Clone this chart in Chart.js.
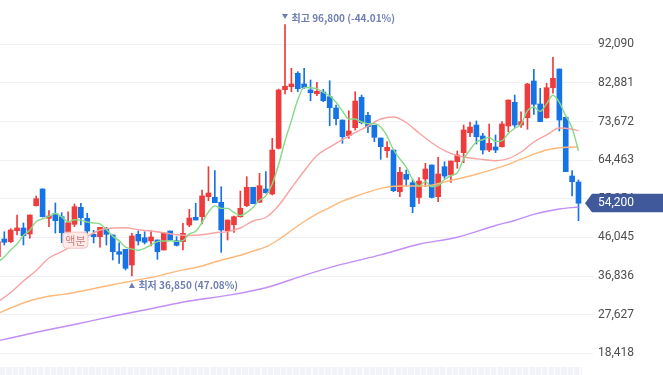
<!DOCTYPE html>
<html><head><meta charset="utf-8">
<script src="https://cdn.jsdelivr.net/npm/chart.js@4.4.1/dist/chart.umd.min.js"></script>
<style>
html,body{margin:0;padding:0;background:#fff;}
#wrap{position:relative;width:663px;height:375px;overflow:hidden;}
#strip{position:absolute;left:0;top:367px;width:582px;height:8px;background:repeating-linear-gradient(to right,#f1f3f9 0,#f1f3f9 5.2px,#fafbfd 5.2px,#fafbfd 6.38px);}
</style></head><body>
<div id="wrap"><canvas id="c" width="663" height="375"></canvas><div id="strip"></div></div>
<script>
// ---- data ----
const opens = [41450,45670,45030,47650,48300,46870,53610,57600,50610,51710,50990,47030,49180,53230,50610,46790,46220,48220,46630,42650,43220,39480,46790,45980,45200,45440,43050,47580,45270,45030,49010,50850,50990,55760,55620,54420,47580,49080,50990,53610,58000,54420,57590,56400,67300,81270,81980,85180,82630,81200,80310,80720,79600,76900,74040,70300,72210,79460,75160,72780,69750,66720,66890,56950,61100,59100,55570,59980,63320,55760,62910,60930,64100,66250,71020,72850,70230,66890,67610,67680,72610,78260,72850,74590,83340,77860,74590,81740,86200,74690,60690,59260];
const highs = [45900,47400,48130,51400,49490,51400,55930,57650,52420,54260,51940,52180,54020,54180,51800,47750,48460,48460,46630,44790,43220,47030,47580,47410,47650,45440,47100,47580,46220,49420,52750,54180,57360,62910,61960,58140,50200,51160,57120,60530,58000,61340,61720,69680,81430,96800,86370,85560,86370,83580,83030,81360,83410,77620,74040,76260,80790,80000,75880,72780,69750,68870,66890,62770,62120,59740,60290,63720,63320,65150,64100,64270,66650,72850,73570,73810,70870,73090,70470,73640,78810,80000,76020,82790,86130,81600,82790,88990,86200,74690,61960,59740];
const lows = [41150,44250,44790,46630,44250,45840,53540,50900,48610,47100,44790,45440,48610,49010,47030,44720,43700,44240,40670,39880,38280,36850,44240,44480,44000,40830,43050,45270,44000,43050,48610,50200,49250,54800,54330,42500,45440,47270,50850,53370,54090,54420,56570,56160,67130,80240,80790,80790,81600,78640,79840,78410,72680,72850,68490,69680,71660,73090,71020,68870,64670,65150,56950,55760,58310,51940,54180,58140,55450,54570,60140,59190,62530,63860,70060,68320,65940,66490,66250,67540,71250,72300,72300,71830,75400,73640,74450,80410,71420,61720,55930,50040];
const closes = [45030,44890,47820,48300,46460,51400,55280,50990,51160,50040,47180,49560,53370,50750,47580,46220,48460,46790,42650,42030,38690,46390,45200,44890,46150,42650,47100,45440,44170,47030,50680,50200,55930,56640,54330,47820,50200,50990,52990,58000,54090,58380,56710,66890,81200,82080,82630,81510,81740,80550,80890,78640,76980,74350,70060,71420,78570,73400,72450,69920,67680,67540,57190,61580,59910,53370,59500,62360,55570,61170,60690,64270,65700,71660,72370,70060,66890,68490,66890,73090,78810,72850,73640,82630,77790,73640,81740,83980,74040,61720,59330,54200];
const days = closes.map((_, i) => i);   // trading-day categories

const ma5 = [40190,41380,43050,44480,46500,47770,49850,50480,51060,51770,50930,49780,50260,50180,49690,49500,49280,47960,46340,45230,43720,43310,42990,43440,44260,45050,45200,45240,45100,45280,46880,47500,49600,52100,53560,52980,52980,52000,51270,52000,53260,54890,56030,58810,63450,69050,73900,78860,81830,81700,81460,80670,79760,78280,76180,74290,74280,73560,73180,73150,72400,70200,66950,64780,62780,59920,58310,59340,58140,58390,59860,60810,61480,64700,66940,68810,69340,69900,68940,69080,70830,72030,73060,76200,77140,76110,77890,79960,78240,75030,72160,66660];
const ma20Days = [0,2,4,6,8,10,12,14,16,18,20,22,24,26,28,30,32,34,36,38,40,42,44,46,48,50,52,54,56,58,60,62,64,66,68,70,72,74,76,78,80,82,84,86,88,90,91];
const ma20 = [30650,32920,35660,38160,41140,42670,44410,46250,47820,48300,48340,47870,47580,47150,46700,46510,46680,47180,47440,48300,49970,50800,53660,57830,61890,65580,67560,69390,71060,72610,74280,74760,73450,70940,68610,66720,65560,64980,64630,64320,64820,66410,68800,70470,72140,71850,71490];
const ma60 = [27910,29220,30420,31370,32040,32420,32920,33520,34160,34780,35350,35950,36500,37210,37970,38570,39240,40190,41030,41790,42810,43770,45550,47700,49850,51680,53160,54690,55810,56830,57740,58240,58310,58310,58480,59260,59980,60690,61550,62460,63480,64700,65890,66890,67420,67560,67610];
const ma120Days = [0,6,12,18,24,30,36,42,48,54,60,66,72,78,81,84,88,91];
const ma120 = [21400,23430,25290,27250,29060,30890,32230,34060,37020,39670,41880,44430,46100,48890,50080,51560,52830,53300];

const yTicks = [18418,27627,36836,46045,55254,64463,73672,82881,92090];
const lastPrice = 54200;
const highMark = { day: 45, value: 96800, name: '최고', pct: '-44.01%' };
const lowMark  = { day: 21, value: 36850, name: '최저', pct: '47.08%' };
const eventMark = { day: 12, text: '액분' };

// ---- styling ----
const UP = '#ee3b3b', DOWN = '#1673e6';
const fmt = v => v.toLocaleString('en-US');
const candleColors = days.map(i => closes[i] >= opens[i] ? UP : DOWN);

const overlay = {
  id: 'overlay',
  afterDatasetsDraw(chart) {
    const { ctx, scales: { x, y } } = chart;
    ctx.save();
    // high marker
    const hx = x.getPixelForValue(highMark.day), hy = y.getPixelForValue(highMark.value);
    ctx.fillStyle = '#6e7eb3';
    ctx.beginPath(); ctx.moveTo(hx - 3, hy - 10.5); ctx.lineTo(hx + 3, hy - 10.5); ctx.lineTo(hx, hy - 5.5); ctx.closePath(); ctx.fill();
    ctx.font = 'bold 10px "Noto Sans CJK KR"';
    ctx.textAlign = 'left'; ctx.textBaseline = 'alphabetic';
    ctx.fillText(highMark.name + ' ' + fmt(highMark.value) + ' (' + highMark.pct + ')', hx + 6.5, hy - 3);
    // low marker
    const lx = x.getPixelForValue(lowMark.day), ly = y.getPixelForValue(lowMark.value);
    ctx.beginPath(); ctx.moveTo(lx - 3, ly + 12); ctx.lineTo(lx + 3, ly + 12); ctx.lineTo(lx, ly + 6.5); ctx.closePath(); ctx.fill();
    ctx.fillText(lowMark.name + ' ' + fmt(lowMark.value) + ' (' + lowMark.pct + ')', lx + 6.5, ly + 12.5);
    // event label
    const ex = x.getPixelForValue(eventMark.day) + 1, ey = y.getPixelForValue(lows[eventMark.day]) + 5.5;
    const w = 25, h = 16;
    ctx.beginPath();
    ctx.roundRect(ex - w / 2, ey, w, h, 4);
    ctx.fillStyle = 'rgba(253,234,232,0.92)'; ctx.fill();
    ctx.strokeStyle = '#f4c3bf'; ctx.lineWidth = 1; ctx.stroke();
    ctx.fillStyle = '#cf7d78';
    ctx.font = '11px "Noto Sans CJK KR"';
    ctx.textAlign = 'center'; ctx.textBaseline = 'middle';
    ctx.fillText(eventMark.text, ex, ey + h / 2 + 0.5);
    ctx.restore();
  },
  afterDraw(chart) {
    const { ctx, chartArea, scales: { y } } = chart;
    const py = y.getPixelForValue(lastPrice);
    const x0 = chartArea.right + 3;
    ctx.save();
    ctx.fillStyle = '#40599b';
    ctx.beginPath();
    ctx.moveTo(x0, py); ctx.lineTo(x0 + 7, py - 9.5); ctx.lineTo(chart.width, py - 9.5);
    ctx.lineTo(chart.width, py + 9); ctx.lineTo(x0 + 7, py + 9); ctx.closePath(); ctx.fill();
    ctx.fillStyle = '#ffffff';
    ctx.font = '12px Roboto';
    ctx.textAlign = 'left'; ctx.textBaseline = 'middle';
    ctx.fillText(fmt(lastPrice), chartArea.right + 16, py);
    ctx.restore();
  }
};

const lineDs = (label, xs, vals, color, order) => ({
  type: 'line', label, order,
  data: vals.map((v, k) => ({ x: xs[k], y: v })),
  borderColor: color, borderWidth: 1.4, pointRadius: 0, fill: false,
  cubicInterpolationMode: 'monotone'
});

new Chart(document.getElementById('c'), {
  type: 'bar',
  data: {
    datasets: [
      lineDs('MA5', days, ma5, '#86d986', 0),
      lineDs('MA20', ma20Days, ma20, '#f8a3a3', 0),
      lineDs('MA60', ma20Days, ma60, '#fdb97c', 0),
      lineDs('MA120', ma120Days, ma120, '#c18ef6', 0),
      { type: 'bar', label: 'body', order: 1, grouped: false,
        data: days.map(i => ({ x: i, y: [opens[i], closes[i]] })),
        backgroundColor: candleColors, barThickness: 5, minBarLength: 1, borderWidth: 0 },
      { type: 'bar', label: 'wick', order: 2, grouped: false,
        data: days.map(i => ({ x: i, y: [lows[i], highs[i]] })),
        backgroundColor: candleColors, barThickness: 1, borderWidth: 0 }
    ]
  },
  options: {
    responsive: false, animation: false, devicePixelRatio: 1,
    layout: { padding: { left: 0, top: 0, right: 0, bottom: 9 } },
    plugins: { legend: { display: false }, tooltip: { enabled: false } },
    scales: {
      x: { type: 'linear', display: false, offset: false, min: 0.326, max: 91.55, grid: { display: false } },
      y: {
        position: 'right', min: 15397, max: 102651,
        afterBuildTicks: s => { s.ticks = yTicks.map(v => ({ value: v })); },
        afterFit: s => { s.width = 81; s.paddingTop = 0; s.paddingBottom = 0; },
        border: { display: false },
        grid: { color: '#eef0f4', lineWidth: 1, tickLength: 11, drawTicks: true },
        ticks: { padding: 5, color: '#4e4e4e', font: { family: 'Roboto', size: 12 }, callback: v => fmt(v) }
      }
    }
  },
  plugins: [overlay]
});
</script>
</body></html>
